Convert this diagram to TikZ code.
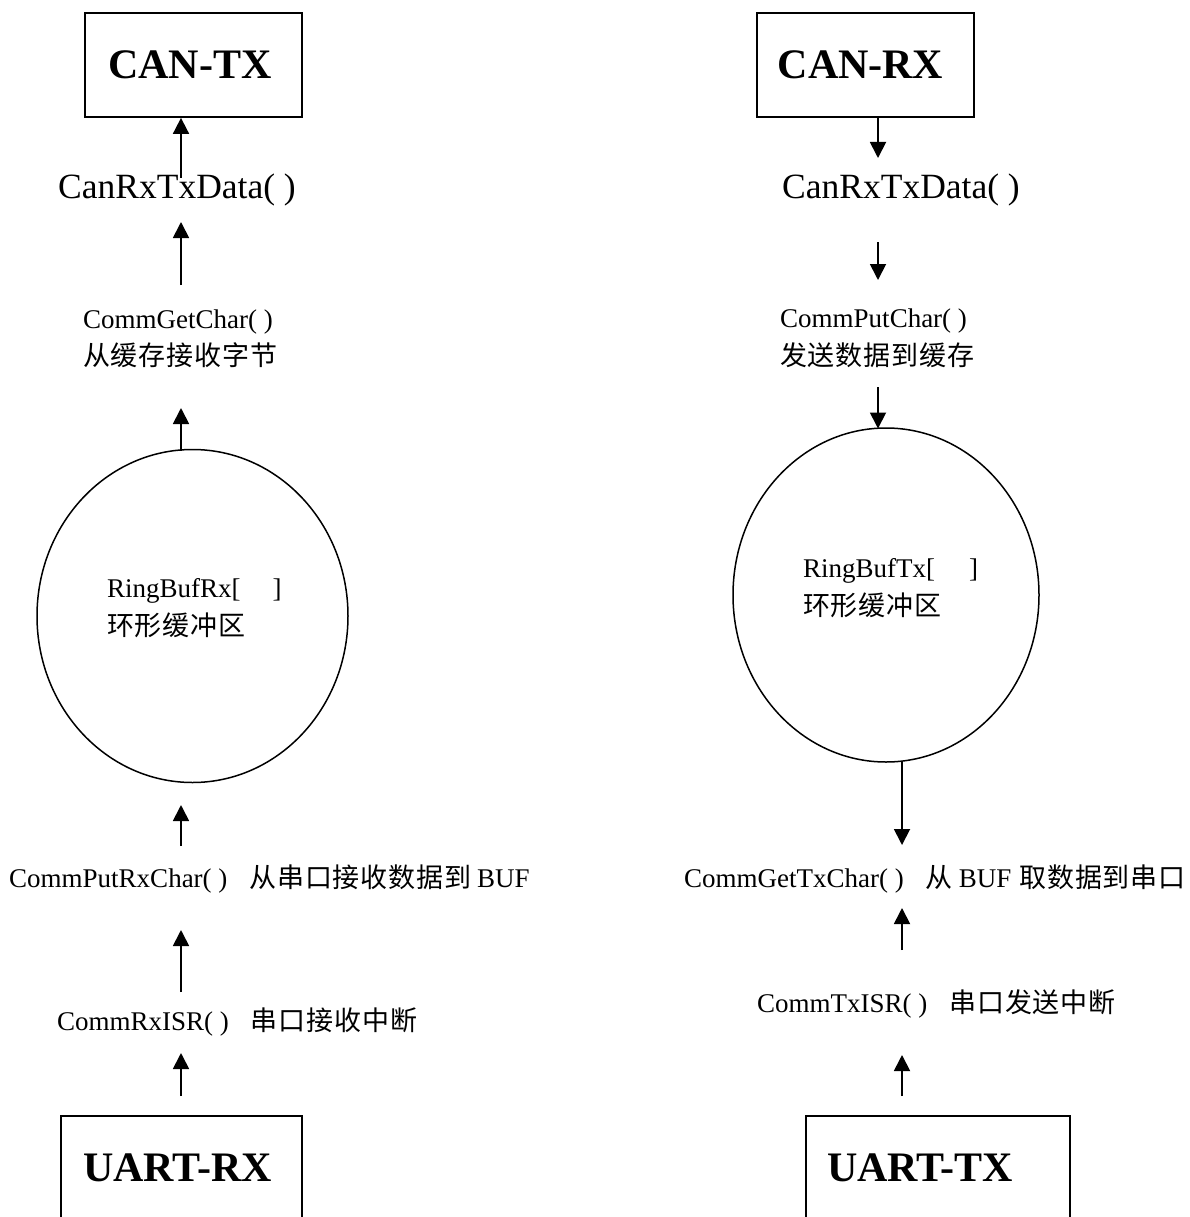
\documentclass[tikz,border=0pt]{standalone}
\usepackage{fontspec}
\setmainfont{Liberation Serif}
\newfontfamily\cjk[LetterSpace=3]{Noto Sans CJK SC}
\usetikzlibrary{arrows.meta,shapes.geometric}
\tikzset{
  boxnode/.style={draw, line width=1.8pt, rectangle, inner sep=0pt},
  ringnode/.style={draw, line width=1.5pt, ellipse, inner sep=0pt},
  bigtxt/.style={font=\fontsize{42}{50}\selectfont\bfseries, inner sep=0pt},
  midtxt/.style={font=\fontsize{35.5}{42}\selectfont, inner sep=0pt, anchor=base west},
  smalltxt/.style={font=\fontsize{27}{32}\selectfont, inner sep=0pt, anchor=base west},
  flow/.style={line width=1.8pt, -{Triangle[width=16pt,length=16pt]}},
}
\begin{document}
\begin{tikzpicture}[x=1pt,y=-1pt]
\clip (0,0) rectangle (1189,1217);
\fill[white] (0,0) rectangle (1189,1217);

% ---------- left column ----------
\node[boxnode, minimum width=217pt, minimum height=104pt] (cantx) at (193.5,65) {};
\node[bigtxt] (cantxlbl) at (190,65) {CAN-TX};
\node[midtxt] (lcan) at (58,198) {CanRxTxData( )};
\node[smalltxt] (getchar) at (83,328) {CommGetChar( )};
\node[smalltxt] (getcharcn) at (83,365) {\cjk 从缓存接收字节};
\node[ringnode, minimum width=311pt, minimum height=333pt] (ringrx) at (192.5,616) {};
\node[smalltxt] (ringrxlbl) at (107,597) {RingBufRx[\hspace{32pt}]};
\node[smalltxt] (ringrxcn) at (107,635) {\cjk 环形缓冲区};
\node[smalltxt] (putrx) at (9,887) {CommPutRxChar( )\hspace{22pt}{\cjk 从串口接收数据到}\hspace{6pt}BUF};
\node[smalltxt] (rxisr) at (57,1030) {CommRxISR( )\hspace{22pt}{\cjk 串口接收中断}};
\node[boxnode, minimum width=241pt, minimum height=104pt] (uartrx) at (181.5,1168) {};
\node[bigtxt] (uartrxlbl) at (177.5,1168) {UART-RX};

\coordinate (l1) at (181,178);
\coordinate (l2a) at (181,285); \coordinate (l2b) at (181,222);
\coordinate (l3a) at (181,450.5); \coordinate (l3b) at (181,408);
\coordinate (l4a) at (181,846); \coordinate (l4b) at (181,805);
\coordinate (l5a) at (181,992); \coordinate (l5b) at (181,930);
\coordinate (l6a) at (181,1096); \coordinate (l6b) at (181,1053);
\draw[flow] (l1) -- (l1 |- cantx.south);
\draw[flow] (l2a) -- (l2b);
\draw[flow] (l3a) -- (l3b);
\draw[flow] (l4a) -- (l4b);
\draw[flow] (l5a) -- (l5b);
\draw[flow] (l6a) -- (l6b);

% ---------- right column ----------
\node[boxnode, minimum width=217pt, minimum height=104pt] (canrx) at (865.5,65) {};
\node[bigtxt] (canrxlbl) at (860.5,65) {CAN-RX};
\node[midtxt] (rcan) at (782,198) {CanRxTxData( )};
\node[smalltxt] (putchar) at (780,327) {CommPutChar( )};
\node[smalltxt] (putcharcn) at (780,365) {\cjk 发送数据到缓存};
\node[ringnode, minimum width=306pt, minimum height=334pt] (ringtx) at (886,595) {};
\node[smalltxt] (ringtxlbl) at (803,577) {RingBufTx[\hspace{34pt}]};
\node[smalltxt] (ringtxcn) at (803,615) {\cjk 环形缓冲区};
\node[smalltxt] (gettx) at (684,887) {CommGetTxChar( )\hspace{22pt}{\cjk 从}\hspace{6pt}BUF\hspace{8pt}{\cjk 取数据到串口}};
\node[smalltxt] (txisr) at (757,1012) {CommTxISR( )\hspace{22pt}{\cjk 串口发送中断}};
\node[boxnode, minimum width=264pt, minimum height=104pt] (uarttx) at (938,1168) {};
\node[bigtxt] (uarttxlbl) at (920,1168) {UART-TX};

\coordinate (r1) at (878,158);
\coordinate (r2a) at (878,242); \coordinate (r2b) at (878,280);
\coordinate (r3a) at (878,387); \coordinate (r3b) at (878,428.5);
\coordinate (r4a) at (902,761); \coordinate (r4b) at (902,845);
\coordinate (r5a) at (902,950); \coordinate (r5b) at (902,908);
\coordinate (r6a) at (902,1096); \coordinate (r6b) at (902,1055);
\draw[flow] (r1 |- canrx.south) -- (r1);
\draw[flow] (r2a) -- (r2b);
\draw[flow] (r3a) -- (r3b);
\draw[flow] (r4a) -- (r4b);
\draw[flow] (r5a) -- (r5b);
\draw[flow] (r6a) -- (r6b);
\end{tikzpicture}
\end{document}
